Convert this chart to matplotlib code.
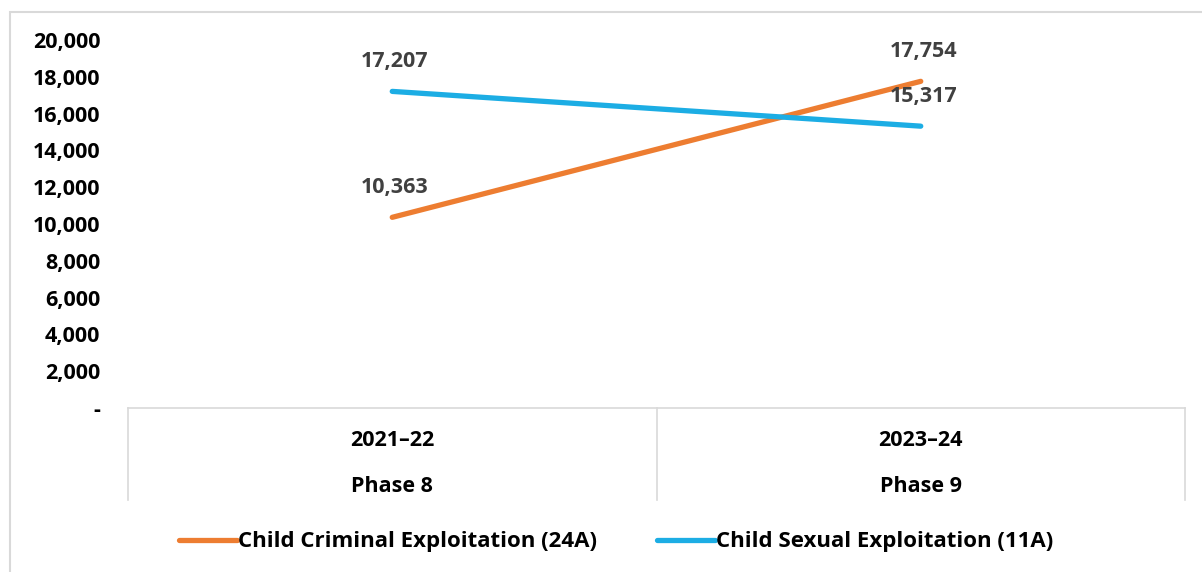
import matplotlib.pyplot as plt
from matplotlib.patches import Rectangle
from matplotlib.ticker import FuncFormatter

plt.rcParams['font.family'] = ['Open Sans', 'DejaVu Sans']
plt.rcParams['font.weight'] = 'bold'

# data
years = ['2021–22', '2023–24']
phases = ['Phase 8', 'Phase 9']
cce = [10363, 17754]   # Child Criminal Exploitation (24A)
cse = [17207, 15317]   # Child Sexual Exploitation (11A)
series_names = ['Child Criminal Exploitation (24A)', 'Child Sexual Exploitation (11A)']
colors = ['#ED7D31', '#1CADE4']

W, H = 1202, 572
fig = plt.figure(figsize=(W / 100, H / 100), dpi=100)

# outer light border
fig.patches.append(Rectangle((10 / W, -0.1), 1.2, 1 - 12 / H + 0.1,
                             transform=fig.transFigure, fill=False,
                             edgecolor='#D9D9D9', linewidth=1.5))

ax = fig.add_axes([128 / W, 1 - 408 / H, (1185 - 128) / W, (408 - 40) / H])
x = list(range(len(years)))

for vals, name, c in zip([cce, cse], series_names, colors):
    ax.plot(x, vals, color=c, linewidth=3.8, solid_capstyle='round', label=name)
    for xi, v in zip(x, vals):
        ax.annotate(f'{v:,}', (xi, v), xytext=(2, 14), textcoords='offset points',
                    ha='center', va='bottom', fontsize=15.5, fontweight='bold',
                    color='#404040')

ax.set_xlim(-0.5, 1.5)
ax.set_ylim(0, 20000)
ax.set_yticks(range(0, 20001, 2000))
ax.yaxis.set_major_formatter(FuncFormatter(lambda v, p: '-' if v == 0 else f'{int(v):,}'))
ax.tick_params(axis='y', length=0, pad=20, labelsize=15.5)
for lab in ax.get_yticklabels():
    lab.set_fontweight('bold')
ax.set_xticks([])
for s in ax.spines.values():
    s.set_visible(False)

# category table below the plot
box_bottom = -(500 - 408) / 368
ax.plot([0, 1], [0, 0], transform=ax.transAxes, color='#D9D9D9', lw=1.2, clip_on=False)
for xf in [0, 0.5, 1]:
    ax.plot([xf, xf], [0, box_bottom], transform=ax.transAxes, color='#D9D9D9',
            lw=1.2, clip_on=False)
for xi, yr, ph in zip(x, years, phases):
    ax.text(xi, -(440 - 408) / 368, yr, transform=ax.get_xaxis_transform(),
            ha='center', va='center', fontsize=15.5, fontweight='bold')
    ax.text(xi, -(486 - 408) / 368, ph, transform=ax.get_xaxis_transform(),
            ha='center', va='center', fontsize=15.5, fontweight='bold')

leg = fig.legend(loc='center', bbox_to_anchor=(616 / W, 1 - 542 / H), ncol=2,
                 frameon=False, handlelength=2.6, handletextpad=0.05,
                 columnspacing=2.7, prop={'size': 16, 'weight': 'bold'})
for line in leg.get_lines():
    line.set_linewidth(3.8)

fig.savefig('out.png', dpi=100)
